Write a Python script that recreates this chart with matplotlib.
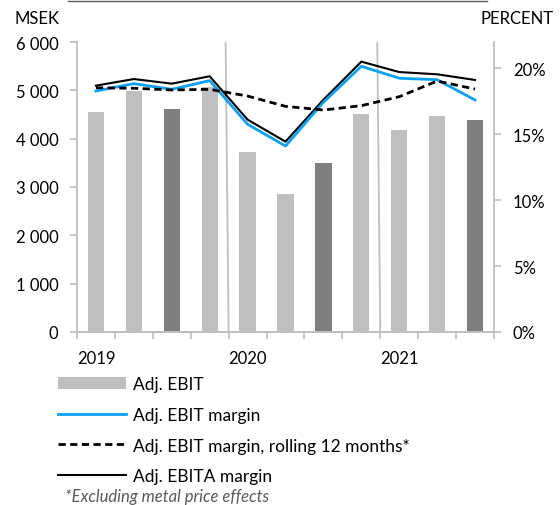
import matplotlib
matplotlib.use("Agg")
import matplotlib.pyplot as plt
from matplotlib.patches import Patch
from matplotlib.lines import Line2D
from matplotlib.ticker import FuncFormatter, FixedLocator

plt.rcParams['font.family'] = ['Lato', 'DejaVu Sans']

quarters = ["Q1 2019", "Q2 2019", "Q3 2019", "Q4 2019",
            "Q1 2020", "Q2 2020", "Q3 2020", "Q4 2020",
            "Q1 2021", "Q2 2021", "Q3 2021"]
adj_ebit = [4560, 4990, 4620, 5060, 3720, 2860, 3500, 4510, 4180, 4470, 4390]
ebit_margin = [18.28, 18.84, 18.41, 19.07, 15.76, 14.11, 17.43, 20.16, 19.25, 19.14, 17.60]
ebit_margin_r12 = [18.53, 18.49, 18.36, 18.41, 17.90, 17.12, 16.84, 17.17, 17.85, 19.04, 18.43]
ebita_margin = [18.69, 19.19, 18.84, 19.40, 16.11, 14.44, 17.62, 20.51, 19.72, 19.55, 19.12]
year_labels = ["2019", "2020", "2021"]
year_positions = [0, 4, 8]

light = '#bfbfbf'
dark = '#7f7f7f'
blue = '#0ba0f2'
axis_gray = '#bfbfbf'

fig = plt.figure(figsize=(5.6, 5.06), dpi=100)
ax = fig.add_axes([77/560, 1-333/506, (494-77)/560, (333-43)/506])
ax2 = ax.twinx()

x = list(range(len(quarters)))
colors = [dark if q.startswith("Q3") else light for q in quarters]
ax.bar(x, adj_ebit, width=0.43, color=colors, zorder=2)

# year separators
for b in [3.5, 7.5]:
    ax.plot([b, b - 0.08], [0, 6000], color=axis_gray, lw=1.3, zorder=1)

ax.set_xlim(-0.5, len(quarters) - 0.5)
ax.set_ylim(0, 6000)
ax.set_yticks(range(0, 6001, 1000))
ax.yaxis.set_major_formatter(FuncFormatter(lambda v, p: f"{int(v):,}".replace(",", " ")))
ax.set_xticks(year_positions)
ax.set_xticklabels(year_labels)
ax.xaxis.set_minor_locator(FixedLocator([i - 0.5 for i in range(len(quarters) + 1)]))
ax.tick_params(axis='x', which='major', length=0, pad=13, labelsize=12)
ax.tick_params(axis='x', which='minor', length=5, color=axis_gray, width=1.2)
ax.tick_params(axis='y', length=5, color=axis_gray, width=1.2, pad=8.5, labelsize=12)

ax2.plot(x, ebit_margin, color=blue, lw=2.0, zorder=3)
ax2.plot(x, ebit_margin_r12, color='black', lw=2.0, linestyle=(0, (2.6, 1.6)), zorder=4)
ax2.plot(x, ebita_margin, color='black', lw=1.5, zorder=2)
ax2.set_ylim(0, 22)
ax2.set_yticks([0, 5, 10, 15, 20])
ax2.yaxis.set_major_formatter(FuncFormatter(lambda v, p: f"{int(v)}%"))
ax2.tick_params(axis='y', length=5, color=axis_gray, width=1.2, pad=8.5, labelsize=12)

for a in (ax, ax2):
    a.spines['top'].set_visible(False)
    for s in ('left', 'right', 'bottom'):
        a.spines[s].set_color(axis_gray)
        a.spines[s].set_linewidth(1.3)

ax2.spines['left'].set_visible(False)
ax.spines['right'].set_visible(False)

fig.text(15/560, 1-19/506, "MSEK", fontsize=12, ha='left', va='center')
fig.text(480/560, 1-19/506, "PERCENT", fontsize=12, ha='left', va='center')

fig.add_artist(Line2D([68/560, 487/560], [1-1.5/506, 1-1.5/506], color='#595959', lw=1.0))

handles = [
    Patch(facecolor=light, edgecolor='none'),
    Line2D([], [], color=blue, lw=2.0),
    Line2D([], [], color='black', lw=2.0, linestyle=(0, (2.6, 1.6))),
    Line2D([], [], color='black', lw=1.5),
]
labels = ["Adj. EBIT", "Adj. EBIT margin", "Adj. EBIT margin, rolling 12 months*", "Adj. EBITA margin"]
fs = 12.5
fpx = fs * 100 / 72
fig.legend(handles, labels, loc='upper left', bbox_to_anchor=(58/560, 1-377/506),
           frameon=False, fontsize=fs, handlelength=68/fpx, handleheight=0.7,
           handletextpad=7/fpx, labelspacing=0.85, borderpad=0, borderaxespad=0)

fig.text(65/560, 1-497/506, "*Excluding metal price effects", fontsize=12,
         style='italic', color='#595959', ha='left', va='center')

fig.savefig("out.png", dpi=100)
